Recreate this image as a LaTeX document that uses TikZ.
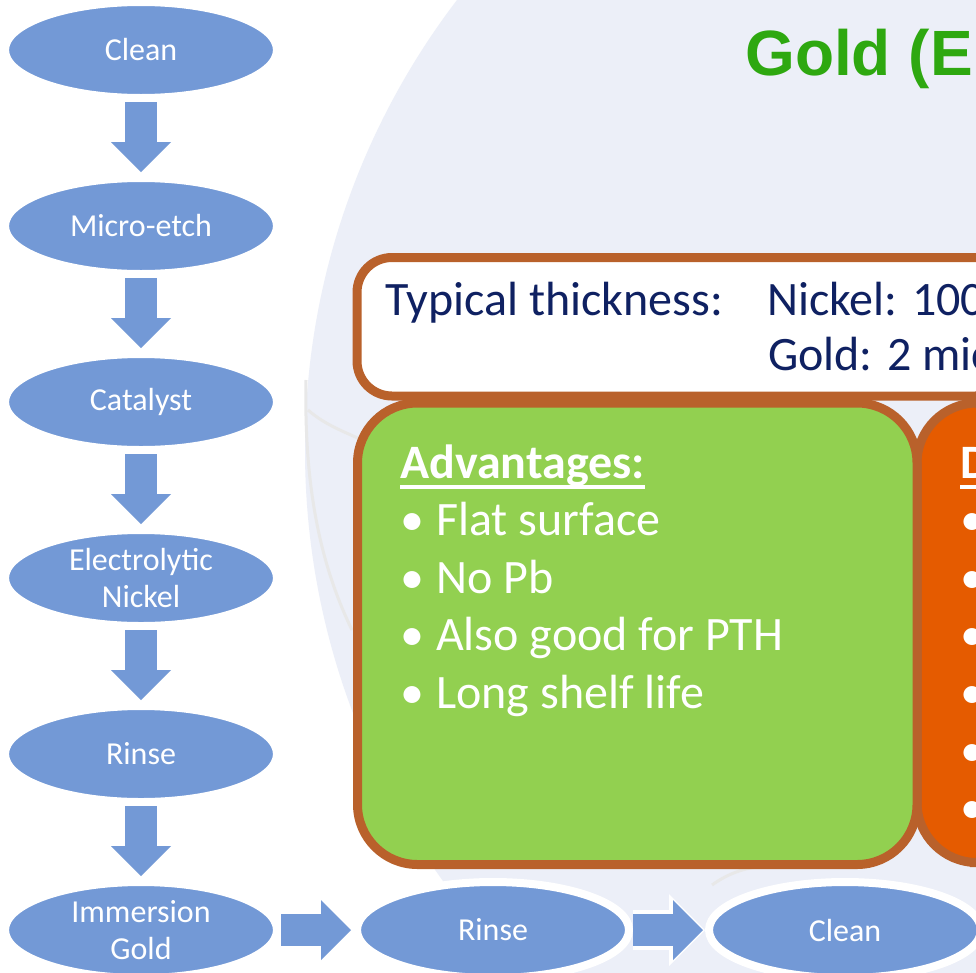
\documentclass[tikz,border=0pt]{standalone}
\usepackage{fontspec}
\setmainfont{Carlito}
\newfontfamily\titlefont{Liberation Sans}
\usepackage{tikz}
\usetikzlibrary{shapes.geometric,arrows.meta}

\definecolor{stepblue}{HTML}{7399D6}
\definecolor{framebrown}{HTML}{B9612B}
\definecolor{advgreen}{HTML}{92D050}
\definecolor{disorange}{HTML}{E55B00}
\definecolor{textnavy}{HTML}{0F2162}
\definecolor{titlegreen}{HTML}{2EA810}
\definecolor{paleblue}{HTML}{ECEFF8}

\tikzset{
  stepnode/.style={ellipse, fill=stepblue, draw=white, line width=8pt,
    minimum width=272pt, minimum height=96pt, inner sep=0pt,
    text=white, align=center, font=\fontsize{32}{37}\selectfont},
  flowarrow/.style={stepblue, line width=32pt,
    -{Triangle[width=60pt,length=30pt,line width=0pt]}, shorten >=2pt},
  haloarrow/.style={flowarrow, preaction={draw=white, line width=40pt,
    -{Triangle[width=72pt,length=36pt,line width=0pt]}, shorten >=0pt}},
  panel/.style={draw=framebrown, line width=9pt, rounded corners=60pt},
  paneltext/.style={anchor=base west, inner sep=0pt, text=white,
    font=\fontsize{48}{57.6}\selectfont},
  infotext/.style={anchor=base west, inner sep=0pt, text=textnavy,
    font=\fontsize{48}{55}\selectfont},
  headrule/.style={white, line width=3.5pt},
  swoosh/.style={gray!18, line width=3pt},
}

\begin{document}
\begin{tikzpicture}[x=1pt,y=-1pt]
            \useasboundingbox (0,0) rectangle (976,972);
            \clip (0,0) rectangle (976,972);

            % Background
            \fill[white] (0,0) rectangle (976,972);
            \fill[paleblue] (1047,450) circle (742pt);
            \draw[swoosh] (306,380) .. controls (304,480) and (318,560) .. (352,630);
            \draw[swoosh] (308,410) .. controls (325,425) and (345,432) .. (362,440);
            \draw[swoosh] (712,885) .. controls (730,872) and (750,866) .. (770,866);

            % Title
            \node[anchor=base west, inner sep=0pt, text=titlegreen,
              font=\titlefont\bfseries\fontsize{64}{64}\selectfont] (title) at (745,75) {Gold (El};

            % Panels
            \draw[panel, fill=white, rounded corners=35pt] (357,257.5) rectangle (1010,396);
            \draw[panel, fill=disorange] (917,403) rectangle (1030,862.5);
            \draw[panel, fill=advgreen] (357.5,403) rectangle (917,864.5);

            \node[infotext] (thick) at (385,315) {Typical thickness:};
            \node[infotext] (nickel) at (767,315) {Nickel: 100};
            \node[infotext] (gold) at (768,370) {Gold: 2 mic};

            \node[paneltext] (advhead) at (400,478) {\textbf{Advantages:}};
            \draw[headrule] ([yshift=-9pt]advhead.base west) -- ([yshift=-9pt]advhead.base east);
            \foreach \txt [count=\i] in {Flat surface, No Pb, Also good for PTH, Long shelf life}
              \node[paneltext] (adv\i) at (400,478+57.6*\i) {\makebox[36pt][l]{•}\txt};

            \node[paneltext] (dishead) at (960,478) {\textbf{D}};
            \draw[headrule] ([yshift=-9pt]dishead.base west) -- ([yshift=-9pt]dishead.base east);
            \foreach \i in {1,...,6}
              \node[paneltext] (dis\i) at (960,478+57.6*\i) {•};

            % Define process steps
            \node[stepnode] (clean) at (141,50) {Clean};
            \node[stepnode] (etch) at (141,226) {Micro-etch};
            \node[stepnode] (cat) at (141,402) {Catalyst};
            \node[stepnode] (nickelstep) at (141,578) {Electrolytic\\Nickel};
            \node[stepnode] (rinse) at (141,754) {Rinse};
            \node[stepnode] (immgold) at (141,930) {Immersion\\Gold};
            \node[stepnode] (rinsetwo) at (493,930) {Rinse};
            \node[stepnode] (cleantwo) at (845,930) {Clean};

            % Draw flow arrows
            \draw[flowarrow] (clean) -- (etch);
            \draw[flowarrow] (etch) -- (cat);
            \draw[flowarrow] (cat) -- (nickelstep);
            \draw[flowarrow] (nickelstep) -- (rinse);
            \draw[flowarrow] (rinse) -- (immgold);
            \draw[haloarrow] (immgold) -- (rinsetwo);
            \draw[haloarrow] (rinsetwo) -- (cleantwo);
        \end{tikzpicture}
\end{document}
